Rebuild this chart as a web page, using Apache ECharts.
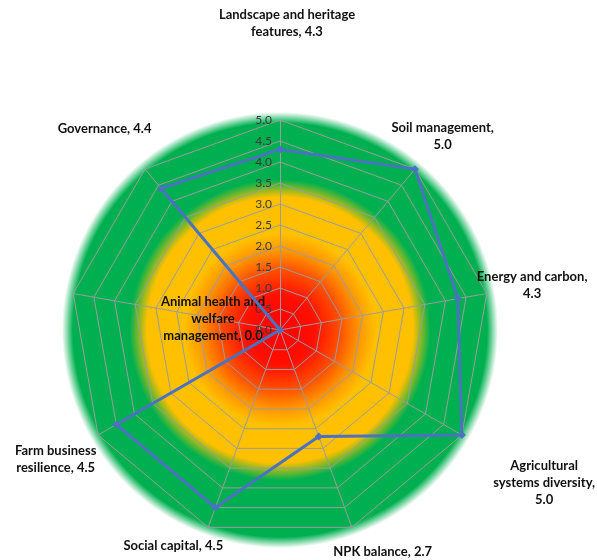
<!DOCTYPE html>
<html>
<head>
<meta charset="utf-8">
<script src="https://cdn.jsdelivr.net/npm/echarts@6/dist/echarts.min.js"></script>
<style>
  html, body { margin: 0; padding: 0; background: #ffffff; }
  #chart { width: 597px; height: 560px; }
</style>
</head>
<body>
<div id="chart"></div>
<script>
// Assessment categories, listed clockwise from the top
const categories = [
  'Landscape and heritage\nfeatures',
  'Soil management',
  'Energy and carbon',
  'Agricultural\nsystems diversity',
  'NPK balance',
  'Social capital',
  'Farm business\nresilience',
  'Animal health and\nwelfare\nmanagement',
  'Governance'
];
// Score of each category on the 0-5 scale
const scores = [4.3, 5.0, 4.3, 5.0, 2.7, 4.5, 4.5, 0.0, 4.4];
// Text placed between a category name and its score
const labelSeparators = [', ', ',\n', ',\n', ',\n', ', ', ', ', ', ', ', ', ', '];
// Radial scale
const scaleMin = 0;
const scaleMax = 5;
const tickLabels = ['0.0', '0.5', '1.0', '1.5', '2.0', '2.5', '3.0', '3.5', '4.0', '4.5', '5.0'];

// ---- layout & styling ----
const CX = 280, CY = 330, R = 210;
const FONT = 'Lato, "Open Sans", sans-serif';
const LINE_COLOR = '#4A72C0';
const GRID_COLOR = '#9c9c9c';
// distance of each category label beyond the outer ring, and a small horizontal nudge
const labelGap = [97, 43, 46, 95, 26, 20, 49, -143, 52];
const labelNudgeX = [7, 0, 0, 0, 22, -28, 0, -1, -7];

const n = categories.length;
// ECharts lays radar indicators out counter-clockwise; map each slot to a clockwise category
const order = categories.map((_, k) => (k === 0 ? 0 : n - k));

function nudgePadding(dx) {
  return [0, Math.max(0, -2 * dx), 0, Math.max(0, 2 * dx)];
}

const indicators = order.map((i, k) => {
  const ind = {
    name: categories[i] + labelSeparators[i] + scores[i].toFixed(1),
    min: scaleMin,
    max: scaleMax,
    nameGap: labelGap[i],
    nameTextStyle: { padding: nudgePadding(labelNudgeX[i]) }
  };
  if (k === 0) {
    ind.axisLabel = {
      show: true,
      color: '#3a3a3a',
      fontFamily: FONT,
      fontSize: 12,
      margin: 8,
      formatter: (v, idx) => tickLabels[idx]
    };
  }
  return ind;
});

const chart = echarts.init(document.getElementById('chart'), null, { renderer: 'canvas' });

chart.setOption({
  animation: false,
  backgroundColor: '#ffffff',
  graphic: [{
    type: 'circle',
    silent: true,
    z: -10,
    shape: { cx: CX, cy: CY, r: R + 8 },
    style: {
      fill: {
        type: 'radial', x: 0.5, y: 0.5, r: 0.5,
        colorStops: [
          { offset: 0.00, color: '#FF0000' },
          { offset: 0.16, color: '#FF1000' },
          { offset: 0.27, color: '#FF4C00' },
          { offset: 0.36, color: '#FF9400' },
          { offset: 0.44, color: '#FFC000' },
          { offset: 0.61, color: '#FFC000' },
          { offset: 0.69, color: '#00B050' },
          { offset: 0.95, color: '#00B050' },
          { offset: 1.00, color: 'rgba(0,176,80,0)' }
        ]
      }
    }
  }],
  radar: {
    center: [CX, CY],
    radius: R,
    startAngle: 90,
    splitNumber: 10,
    shape: 'polygon',
    axisName: {
      color: '#111111',
      fontFamily: FONT,
      fontWeight: 'bold',
      fontSize: 13,
      lineHeight: 17,
      align: 'center',
      verticalAlign: 'middle'
    },
    axisLine: { lineStyle: { color: GRID_COLOR, width: 1 } },
    splitLine: { lineStyle: { color: GRID_COLOR, width: 1 } },
    splitArea: { show: false },
    axisTick: { show: false },
    axisLabel: { show: false },
    indicator: indicators
  },
  series: [{
    type: 'radar',
    symbol: 'diamond',
    symbolSize: 8,
    lineStyle: { color: LINE_COLOR, width: 3 },
    itemStyle: { color: LINE_COLOR },
    data: [{ value: order.map(i => scores[i]) }]
  }]
});
</script>
</body>
</html>
